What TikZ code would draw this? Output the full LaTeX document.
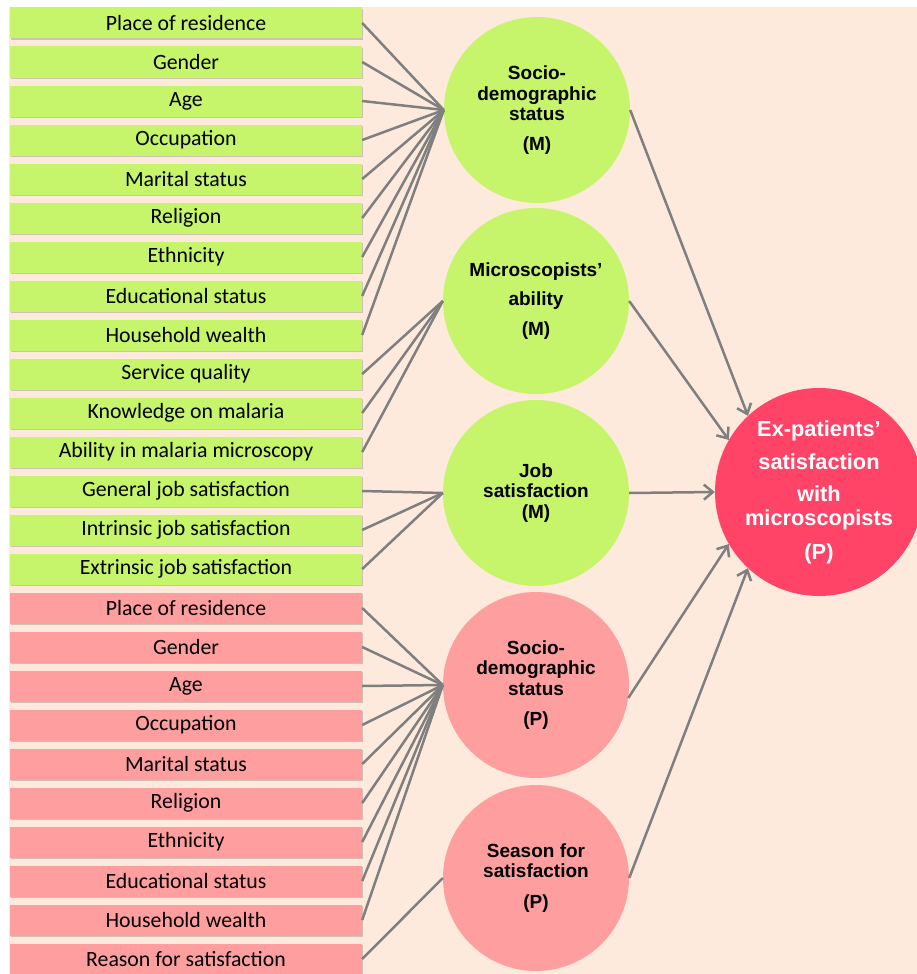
\documentclass[tikz,border=0pt]{standalone}
\usepackage{fontspec}
\setmainfont{Carlito}
\newfontfamily\circfont{Liberation Sans}
\usetikzlibrary{arrows.meta,shadows}

\definecolor{peach}{HTML}{FDEADC}
\definecolor{limegreen}{HTML}{C6F46A}
\definecolor{rosepink}{HTML}{FF9E9E}
\definecolor{hotred}{HTML}{FF4468}
\definecolor{linegray}{HTML}{7F7F7F}

\tikzset{
  varbox/.style={rectangle, minimum width=352pt, minimum height=31pt, inner sep=0pt,
    font=\fontsize{21.8}{25}\selectfont,
    drop shadow={shadow xshift=0.6pt, shadow yshift=-1.4pt, opacity=0.18, fill=black}},
  mbox/.style={varbox, fill=limegreen},
  pbox/.style={varbox, fill=rosepink},
  factor/.style={circle, minimum size=186pt, inner sep=0pt, align=center,
    font=\circfont\bfseries\fontsize{19}{20.5}\selectfont},
  link/.style={draw=linegray, line width=2.5pt},
  arr/.style={link, -{Straight Barb[length=9pt,width=15pt]}}
}

\begin{document}
\begin{tikzpicture}[x=1pt,y=-1pt]
                  \useasboundingbox (0,0) rectangle (917,974);
                  \fill[peach] (9,7) rectangle (917,974);

                  % variables, microscopists
                  \node[mbox] (m1) at (186,23) {Place of residence};
                  \node[mbox] (m2) at (186,62) {Gender};
                  \node[mbox] (m3) at (186,101) {Age};
                  \node[mbox] (m4) at (186,140) {Occupation};
                  \node[mbox] (m5) at (186,179) {Marital status};
                  \node[mbox] (m6) at (186,218) {Religion};
                  \node[mbox] (m7) at (186,257) {Ethnicity};
                  \node[mbox] (m8) at (186,296) {Educational status};
                  \node[mbox] (m9) at (186,335) {Household wealth};
                  \node[mbox] (m10) at (186,374) {Service quality};
                  \node[mbox] (m11) at (186,413) {Knowledge on malaria};
                  \node[mbox] (m12) at (186,452) {Ability in malaria microscopy};
                  \node[mbox] (m13) at (186,491) {General job satisfaction};
                  \node[mbox] (m14) at (186,530) {Intrinsic job satisfaction};
                  \node[mbox] (m15) at (186,569) {Extrinsic job satisfaction};

                  % variables, ex-patients
                  \node[pbox] (p1) at (186,608) {Place of residence};
                  \node[pbox] (p2) at (186,647) {Gender};
                  \node[pbox] (p3) at (186,686) {Age};
                  \node[pbox] (p4) at (186,725) {Occupation};
                  \node[pbox] (p5) at (186,764) {Marital status};
                  \node[pbox] (p6) at (186,803) {Religion};
                  \node[pbox] (p7) at (186,842) {Ethnicity};
                  \node[pbox] (p8) at (186,881) {Educational status};
                  \node[pbox] (p9) at (186,920) {Household wealth};
                  \node[pbox] (p10) at (186,959) {Reason for satisfaction};

                  % factors
                  \node[factor, fill=limegreen] (F1) at (537,110) {Socio-\\demographic\\status\\[9pt](M)};
                  \node[factor, fill=limegreen] (F2) at (536,301) {Microscopists’\\[8.5pt]ability\\[9pt](M)};
                  \node[factor, fill=limegreen] (F3) at (536,493) {Job\\satisfaction\\(M)};
                  \node[factor, fill=rosepink] (F4) at (536,685) {Socio-\\demographic\\status\\[10pt](P)};
                  \node[factor, fill=rosepink] (F5) at (536,878) {Season for\\satisfaction\\[10pt](P)};
                  \node[factor, fill=hotred, minimum size=208pt, text=white,
                    font=\circfont\bfseries\fontsize{21.8}{24}\selectfont] (S) at (819,492)
                    {Ex-patients’\\[9pt]satisfaction\\[8pt]with\\[0pt]microscopists\\[10pt](P)};

                  \path[link] (m1.east) edge (F1.west) (m2.east) edge (F1.west) (m3.east) edge (F1.west)
                  (m4.east) edge (F1.west) (m5.east) edge (F1.west) (m6.east) edge (F1.west)
                  (m7.east) edge (F1.west) (m8.east) edge (F1.west) (m9.east) edge (F1.west)
                  (m10.east) edge (F2.west) (m11.east) edge (F2.west) (m12.east) edge (F2.west)
                  (m13.east) edge (F3.west) (m14.east) edge (F3.west) (m15.east) edge (F3.west)
                  (p1.east) edge (F4.west) (p2.east) edge (F4.west) (p3.east) edge (F4.west)
                  (p4.east) edge (F4.west) (p5.east) edge (F4.west) (p6.east) edge (F4.west)
                  (p7.east) edge (F4.west) (p8.east) edge (F4.west) (p9.east) edge (F4.west)
                  (p10.east) edge (F5.west);
                  \path (F1.east) edge[arr] (S.133) (F2.east) edge[arr] (S.150)
                  (F3.east) edge[arr] (S.west) (F4.-8) edge[arr] (S.210) (F5.east) edge[arr] (S.227);
              \end{tikzpicture}
\end{document}
